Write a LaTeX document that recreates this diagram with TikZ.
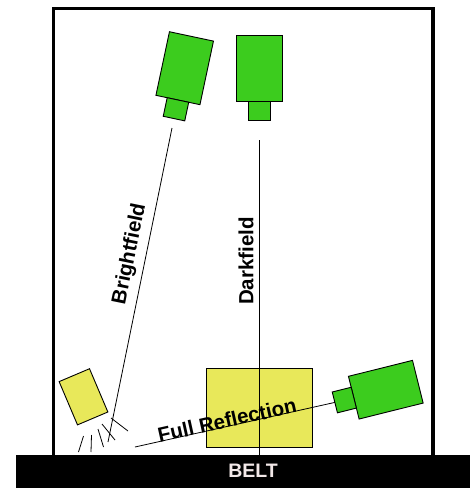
\documentclass[tikz,border=0pt]{standalone}
\usepackage{fontspec}
\setmainfont{Liberation Sans}
\definecolor{camgreen}{RGB}{60,204,30}
\definecolor{lampyellow}{RGB}{232,232,90}
\definecolor{beltlabel}{RGB}{242,232,232}
\tikzset{
  cambody/.style={draw=black, line width=0.9pt, fill=camgreen, inner sep=0pt, outer sep=0pt},
  lampbox/.style={draw=black, line width=0.9pt, fill=lampyellow, inner sep=0pt, outer sep=0pt},
  ray/.style={draw=black, line width=0.8pt},
  wall/.style={draw=black, line width=3.5pt, line join=miter},
  lbl/.style={font=\fontsize{20.5}{24}\selectfont\bfseries, inner sep=0pt},
}
\begin{document}
\begin{tikzpicture}[x=1pt,y=-1pt]
\useasboundingbox (0,0) rectangle (471,488);

% enclosure
\draw[wall] (53.5,456) -- (53.5,8.5) -- (433,8.5) -- (433,456);

% conveyor belt
\node[fill=black, minimum width=454pt, minimum height=33pt, inner sep=0pt, outer sep=0pt]
  (belt) at (243,471.5) {};
\node[font=\fontsize{19.5}{22}\selectfont\bfseries, text=beltlabel] (beltlabel) at (253,470.5) {BELT};

% brightfield camera (tilted)
\node[cambody, minimum width=45pt, minimum height=65pt, rotate=-12] (bfbody) at (184.7,68.2) {};
\node[cambody, minimum width=22pt, minimum height=19pt, rotate=-12, anchor=north] (bflens) at (bfbody.south) {};

% darkfield camera (straight down)
\node[cambody, minimum width=46pt, minimum height=66pt] (dfbody) at (259,68) {};
\node[cambody, minimum width=22pt, minimum height=19pt, anchor=north] (dflens) at (dfbody.south) {};

% full-reflection camera (side view)
\node[cambody, minimum width=66pt, minimum height=44pt, rotate=14] (frbody) at (385.8,389.7) {};
\node[cambody, minimum width=19.5pt, minimum height=21.5pt, rotate=14, anchor=east] (frlens) at (frbody.west) {};

% light source
\node[lampbox, minimum width=33pt, minimum height=47pt, rotate=23] (lamp) at (83.5,396.8) {};

% object on the belt
\node[lampbox, minimum width=106pt, minimum height=79pt] (part) at (259,407.5) {};

% light rays
\draw[ray] (83.5,436) -- (78.5,452);
\draw[ray] (91.5,435) -- (91,452);
\draw[ray] (98,429) -- (103.5,447);
\draw[ray] (102,424) -- (115,440);
\draw[ray] (111,418) -- (128,431);

% optical paths
\coordinate (bfstart) at (172,128);
\coordinate (bfend) at (108,442);
\coordinate (dfstart) at (259,140);
\coordinate (dfend) at (259,455);
\coordinate (frstart) at (135,447);
\draw[ray] (bfstart) -- (bfend);
\draw[ray] (dfstart) -- (dfend);
\draw[ray] (frstart) -- (frlens.west);

% path labels
\node[lbl, rotate=78.5] (bflabel) at (130,254) {Brightfield};
\node[lbl, rotate=90] (dflabel) at (246,261) {Darkfield};
\node[lbl, rotate=12.5] (frlabel) at (227,420) {Full Reflection};
\end{tikzpicture}
\end{document}
